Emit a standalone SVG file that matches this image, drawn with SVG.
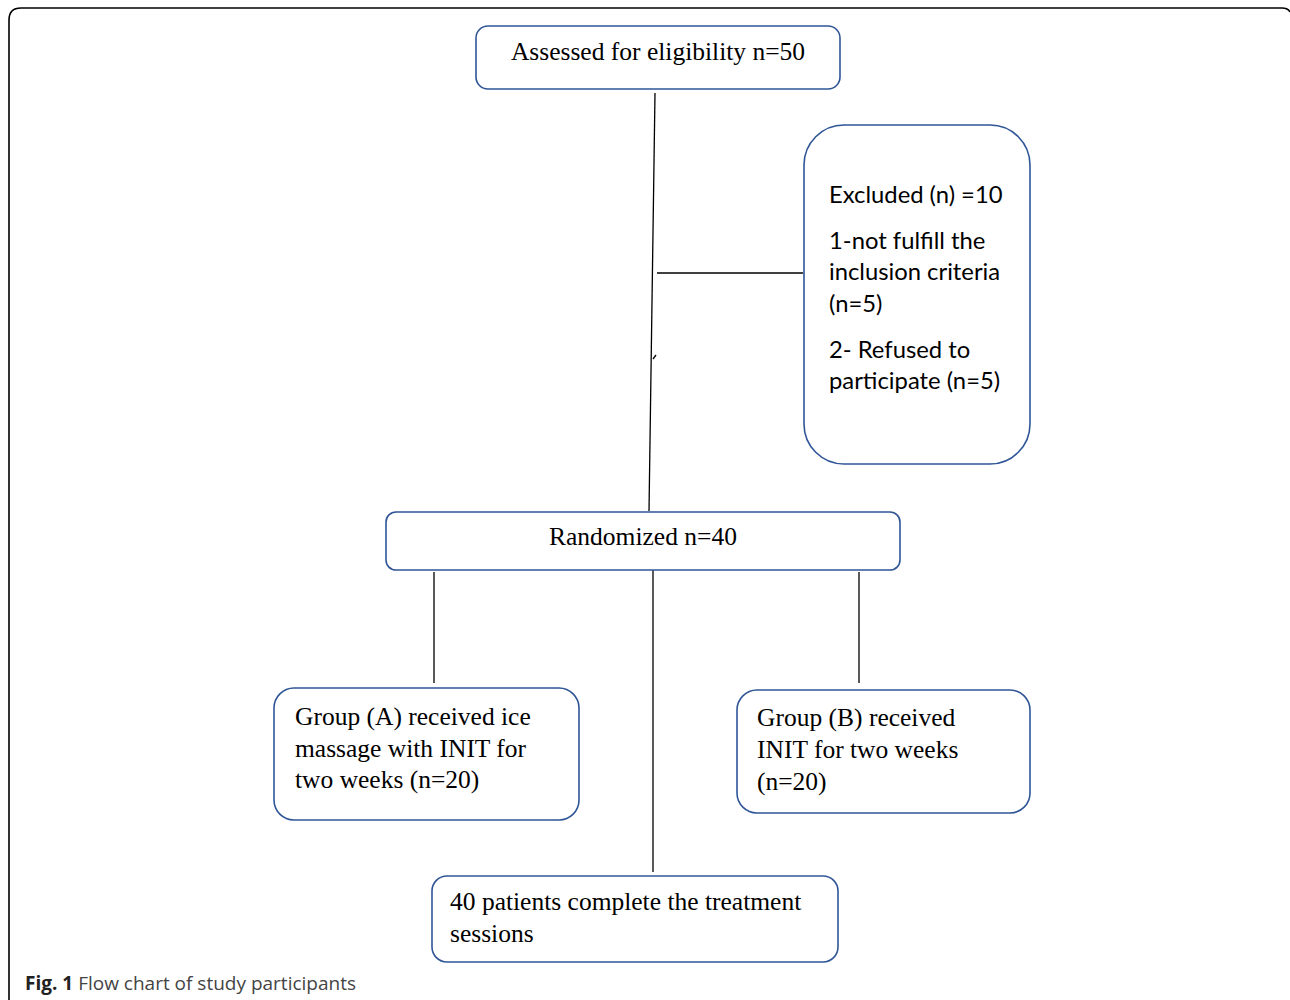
<svg xmlns="http://www.w3.org/2000/svg" width="1290" height="1000" viewBox="0 0 1290 1000">
<style>
.box{fill:#fff;stroke:#2f5597;stroke-width:1.6}
.serif{font-family:"Liberation Serif","Times New Roman",serif;font-size:25.5px;fill:#000}
.sans{font-family:Lato,"Open Sans",sans-serif;font-size:23.8px;fill:#000}
.conn line,.conn path{stroke:#000;stroke-width:1.3;fill:none}
</style>
<rect width="1290" height="1000" fill="#fff"/>
<path d="M9,1000 V20 Q9,8 21,8 H1282 Q1288,8 1290,12" fill="none" stroke="#000" stroke-width="1.6"/>
<g class="conn">
<line x1="655" y1="93" x2="649" y2="511"/>
<line x1="657" y1="273" x2="803" y2="273"/>
<path d="M653,359 L656,355"/>
<line x1="434" y1="572" x2="434" y2="683"/>
<line x1="653" y1="569" x2="653" y2="872"/>
<line x1="859" y1="572" x2="859" y2="683"/>
</g>
<g id="assessed"><rect class="box" x="476" y="26" width="364" height="63" rx="12"/><text class="serif" x="658" y="60" text-anchor="middle">Assessed for eligibility n=50</text></g>
<g id="excluded"><rect class="box" x="804" y="125" width="226" height="339" rx="40"/>
<text class="sans" x="829"><tspan x="829" y="203">Excluded (n) =10</tspan><tspan x="829" y="249">1-not fulfill the</tspan><tspan x="829" y="280">inclusion criteria</tspan><tspan x="829" y="312">(n=5)</tspan><tspan x="829" y="358">2- Refused to</tspan><tspan x="829" y="389">participate (n=5)</tspan></text></g>
<g id="randomized"><rect class="box" x="386" y="512" width="514" height="58" rx="10"/><text class="serif" x="643" y="545" text-anchor="middle">Randomized n=40</text></g>
<g id="groupA"><rect class="box" x="274" y="688" width="305" height="132" rx="20"/>
<text class="serif"><tspan x="295" y="725">Group (A) received ice</tspan><tspan x="295" y="757">massage with INIT for</tspan><tspan x="295" y="788">two weeks (n=20)</tspan></text></g>
<g id="groupB"><rect class="box" x="737" y="690" width="293" height="123" rx="20"/>
<text class="serif"><tspan x="757" y="726">Group (B) received</tspan><tspan x="757" y="758">INIT for two weeks</tspan><tspan x="757" y="790">(n=20)</tspan></text></g>
<g id="complete"><rect class="box" x="432" y="876" width="406" height="86" rx="15"/>
<text class="serif"><tspan x="450" y="910">40 patients complete the treatment</tspan><tspan x="450" y="942">sessions</tspan></text></g>
<text x="25" y="990" font-family="'Open Sans','Noto Sans',sans-serif" font-size="19" fill="#333"><tspan font-weight="bold" fill="#222">Fig. 1</tspan> <tspan fill="#444">Flow chart of study participants</tspan></text>
</svg>
